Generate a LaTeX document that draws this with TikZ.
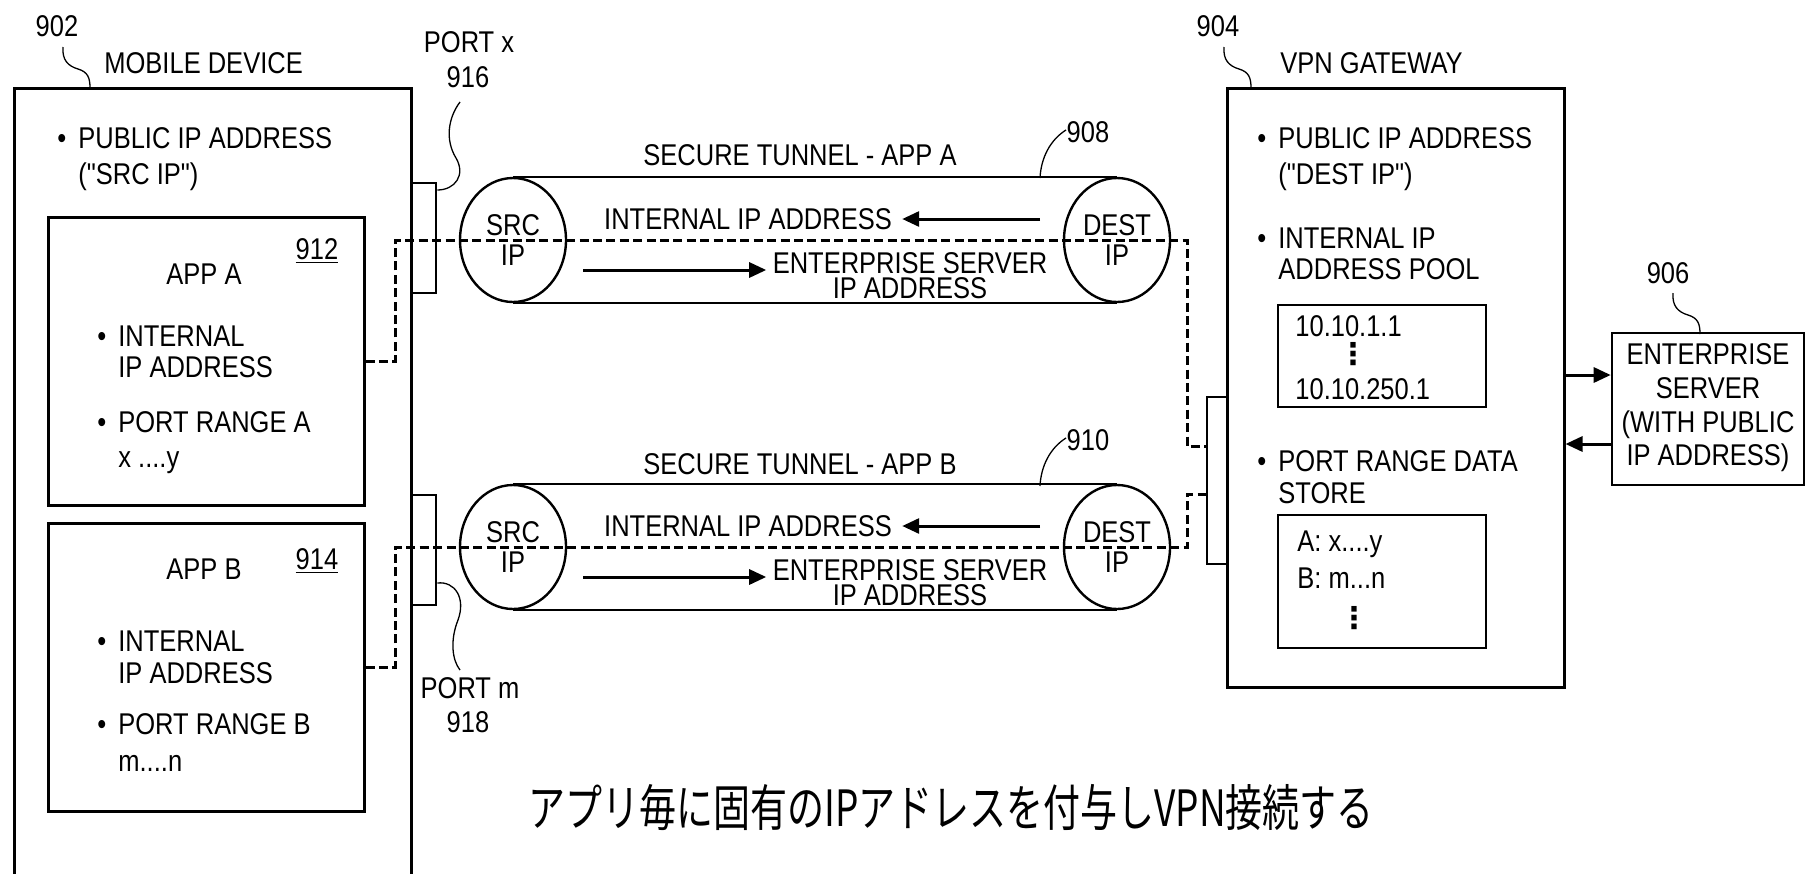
\documentclass[tikz,border=0pt]{standalone}
\usepackage{fontspec}
\setmainfont{Liberation Sans}[FakeStretch=0.85, Ligatures=TeXOff]
\newfontfamily\jpfont{Noto Sans CJK JP}[FakeStretch=0.74]
\newfontfamily\symfont{DejaVu Sans}
\usetikzlibrary{shapes.geometric,arrows.meta,calc,fit}
\newcommand\bul{\llap{\textbullet\hspace{6pt}}}
\newcommand\vdotsglyph{{\symfont\bfseries ⋮}}

\begin{document}
\begin{tikzpicture}[x=0.5pt,y=-0.5pt,
  box/.style={draw, line width=1.5pt, inner sep=0pt},
  thinbox/.style={draw, line width=1.2pt, inner sep=0pt},
  txt/.style={inner sep=0pt, align=left, font=\fontsize{15}{18}\selectfont},
  ctxt/.style={inner sep=0pt, align=center, font=\fontsize{15}{18}\selectfont},
  leader/.style={line width=0.65pt},
  tube/.style={line width=1.2pt},
  tubeend/.style={draw, ellipse, line width=1.2pt, inner sep=0pt,
    minimum width=53pt, minimum height=62pt, align=center,
    font=\fontsize{15}{15}\selectfont},
  dashline/.style={line width=1.5pt, dash pattern=on 4.5pt off 2.2pt},
  arr/.style={line width=1.5pt, -{Triangle[length=8.5pt,width=7.5pt]}},
  hook/.pic={\draw[leader] (0,0) .. controls (-1,13) and (5,19) .. (15,22)
             .. controls (25,25) and (27,31) .. (27,41);}
]
\useasboundingbox (0,0) rectangle (1808,873);
\clip (0,0) rectangle (1808,873);
\fill[white] (0,0) rectangle (1808,873);

% ---------- mobile device ----------
\node[box, fit={(14,88) (411,940)}] (md) {};
\node[ctxt] (l902) at (57,26) {902};
\pic at (63,47) {hook};
\node[txt, anchor=north west] (mdname) at (104,52) {MOBILE DEVICE};
\node[txt, anchor=north west] (mdip) at (78,127) {\bul PUBLIC IP ADDRESS\\("SRC IP")};

% app A
\node[box, fit={(48,217) (364,505)}] (appA) {};
\node[ctxt] (appAname) at (204,274) {APP A};
\node[ctxt] (n912) at (317,251) {\underline{912}};
\node[txt, anchor=north west, font=\fontsize{15}{15.5}\selectfont] (appAip) at (118,325) {\bul INTERNAL\\IP ADDRESS};
\node[txt, anchor=north west, font=\fontsize{15}{17.5}\selectfont] (appArange) at (118,411) {\bul PORT RANGE A\\x ....y};

% app B
\node[box, fit={(48,523) (364,811)}] (appB) {};
\node[ctxt] (appBname) at (204,569) {APP B};
\node[ctxt] (n914) at (317,561) {\underline{914}};
\node[txt, anchor=north west, font=\fontsize{15}{16}\selectfont] (appBip) at (118,630) {\bul INTERNAL\\IP ADDRESS};
\node[txt, anchor=north west, font=\fontsize{15}{18.5}\selectfont] (appBrange) at (118,713) {\bul PORT RANGE B\\m....n};

% ports
\node[box, line width=1.3pt, fit={(411,183) (436,293)}] (portX) {};
\node[box, line width=1.3pt, fit={(411,495) (436,605)}] (portM) {};
\node[ctxt] (lportX) at (469,42) {PORT x};
\node[ctxt] (l916) at (468,77) {916};
\draw[leader] (460,102) .. controls (448,118) and (445,140) .. (456,158)
  .. controls (466,175) and (455,190) .. (portX.east |- 0,190);
\node[ctxt] (lportM) at (470,688) {PORT m};
\node[ctxt] (l918) at (468,722) {918};
\draw[leader] (portM.east |- 0,583) .. controls (455,581) and (466,598) .. (458,620)
  .. controls (450,640) and (452,660) .. (460,670);

% ---------- VPN gateway ----------
\node[box, fit={(1227,88) (1564,687)}] (gw) {};
\node[box, line width=1.3pt, fit={(1207,397) (1227,564)}] (gwport) {};
\node[ctxt] (l904) at (1218,26) {904};
\pic at (1224,47) {hook};
\node[txt, anchor=north west] (gwname) at (1280,52) {VPN GATEWAY};
\node[txt, anchor=north west] (gwip) at (1278,127) {\bul PUBLIC IP ADDRESS\\("DEST IP")};
\node[txt, anchor=north west, font=\fontsize{15}{15.5}\selectfont] (gwpoolt) at (1278,227) {\bul INTERNAL IP\\ADDRESS POOL};
\node[thinbox, fit={(1278,305) (1486,407)}] (pool) {};
\node[txt, anchor=north west] (ip1) at (1295,315) {10.10.1.1};
\node[ctxt] (pooldots) at (1353,354) {\vdotsglyph};
\node[txt, anchor=north west] (ip2) at (1295,378) {10.10.250.1};
\node[txt, anchor=north west, font=\fontsize{15}{16}\selectfont] (gwstoret) at (1278,450) {\bul PORT RANGE DATA\\STORE};
\node[thinbox, fit={(1278,515) (1486,648)}] (store) {};
\node[txt, anchor=north west, font=\fontsize{15}{18.5}\selectfont] (storeAB) at (1297,530) {A: x....y\\B: m...n};
\node[ctxt] (storedots) at (1354,618) {\vdotsglyph};

% ---------- enterprise server ----------
\node[thinbox, line width=1.3pt, fit={(1612,333) (1804,485)}] (srv) {};
\node[ctxt, font=\fontsize{15}{16.8}\selectfont] (srvtext) at (1708,408) {ENTERPRISE\\SERVER\\(WITH PUBLIC\\IP ADDRESS)};
\node[ctxt] (l906) at (1668,273) {906};
\pic at (1673,293) {hook};
\coordinate (s1) at ($(srv.west)+(0,-34)$);
\coordinate (s2) at ($(srv.west)+(0,35)$);
\draw[arr] (gw.east |- s1) -- (s1);
\draw[arr] (s2) -- (gw.east |- s2);

% ---------- secure tunnel A ----------
\node[tubeend] (srcA) at (513,240) {SRC\\IP};
\node[tubeend] (destA) at (1117,240) {DEST\\IP};
\draw[tube] (srcA.north) -- (destA.north);
\draw[tube] (srcA.south) -- (destA.south);
\node[ctxt] (titleA) at (800,155) {SECURE TUNNEL - APP A};
\node[ctxt] (l908) at (1088,132) {908};
\draw[leader] (1040,178) .. controls (1041,158) and (1050,140) .. (1066,130);
\node[ctxt] (intA) at (748,219) {INTERNAL IP ADDRESS};
\draw[arr] ([xshift=74pt]intA.east) -- ([xshift=5pt]intA.east);
\node[ctxt, font=\fontsize{15}{12.5}\selectfont] (entA) at (910,276) {ENTERPRISE SERVER\\IP ADDRESS};
\draw[arr] ([shift={(8pt,-15pt)}]srcA.east) -- ++(91.5pt,0pt);

% ---------- secure tunnel B ----------
\node[tubeend] (srcB) at (513,547) {SRC\\IP};
\node[tubeend] (destB) at (1117,547) {DEST\\IP};
\draw[tube] (srcB.north) -- (destB.north);
\draw[tube] (srcB.south) -- (destB.south);
\node[ctxt] (titleB) at (800,464) {SECURE TUNNEL - APP B};
\node[ctxt] (l910) at (1088,440) {910};
\draw[leader] (1040,486) .. controls (1041,466) and (1050,448) .. (1066,438);
\node[ctxt] (intB) at (748,526) {INTERNAL IP ADDRESS};
\draw[arr] ([xshift=74pt]intB.east) -- ([xshift=5pt]intB.east);
\node[ctxt, font=\fontsize{15}{12.5}\selectfont] (entB) at (910,583) {ENTERPRISE SERVER\\IP ADDRESS};
\draw[arr] ([shift={(8pt,-15pt)}]srcB.east) -- ++(91.5pt,0pt);

% ---------- per-app data paths ----------
\draw[dashline] (appA.east) -- ++(30,0) |- (srcA.center) -- (destA.center)
  -- ++(70,0) |- ($(gwport.west)+(0,-34.5)$);
\draw[dashline] (appB.east) -- ++(30,0) |- (srcB.center) -- (destB.center)
  -- ++(70,0) |- ($(gwport.west)+(0,13.5)$);

% ---------- caption ----------
\node[inner sep=0pt, font={\jpfont\fontsize{25}{25}\selectfont}] (caption) at (951,808) {アプリ毎に固有のIPアドレスを付与しVPN接続する};
\end{tikzpicture}
\end{document}
